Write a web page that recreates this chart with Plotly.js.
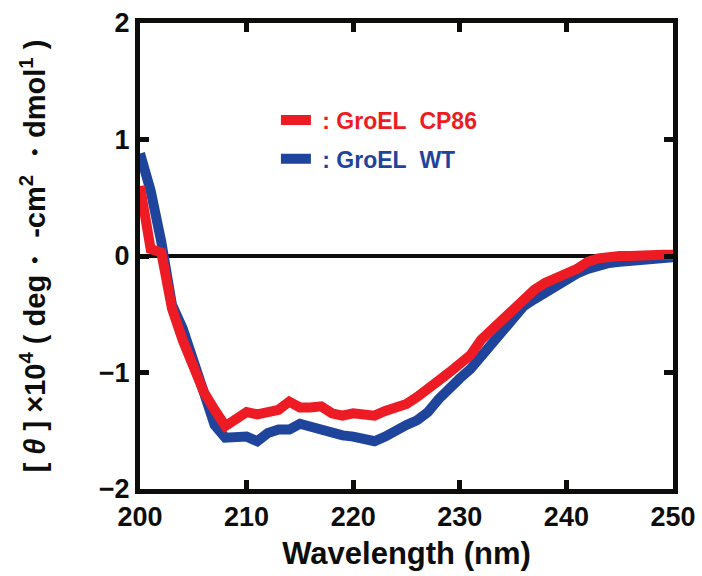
<!DOCTYPE html>
<html>
<head>
<meta charset="utf-8">
<script src="https://cdn.plot.ly/plotly-3.0.1.min.js"></script>
<style>html,body{margin:0;padding:0;background:#fff;}#chart{width:702px;height:576px;}</style>
</head>
<body>
<div id="chart"></div>
<script>
// Wavelength (nm)
var wavelength = [200,201,202,203,204,205,206,207,208,209,210,211,212,213,214,215,216,217,218,219,220,221,222,223,224,225,226,227,228,229,230,231,232,233,234,235,236,237,238,239,240,241,242,243,244,245,246,247,248,249,250];
// [θ] x10^4, GroEL WT (blue)
var groelWT = [0.88,0.56,0.12,-0.42,-0.62,-0.90,-1.23,-1.45,-1.56,-1.55,-1.55,-1.59,-1.52,-1.49,-1.49,-1.44,-1.47,-1.48,-1.52,-1.54,-1.55,-1.56,-1.59,-1.55,-1.49,-1.45,-1.41,-1.34,-1.23,-1.13,-1.05,-0.97,-0.86,-0.73,-0.64,-0.53,-0.43,-0.37,-0.31,-0.26,-0.21,-0.15,-0.11,-0.08,-0.06,-0.05,-0.04,-0.02,-0.02,-0.02,-0.01];
// [θ] x10^4, GroEL CP86 (red)
var groelCP86 = [0.60,0.06,0.03,-0.45,-0.72,-0.97,-1.17,-1.32,-1.46,-1.40,-1.34,-1.36,-1.35,-1.32,-1.25,-1.30,-1.30,-1.29,-1.35,-1.37,-1.35,-1.35,-1.37,-1.33,-1.30,-1.27,-1.21,-1.13,-1.07,-1.00,-0.92,-0.85,-0.72,-0.63,-0.55,-0.44,-0.35,-0.29,-0.23,-0.18,-0.15,-0.11,-0.05,-0.02,0.0,0.0,0.0,0.01,0.0,0.01,0.01];
var xTicks = [200,210,220,230,240,250];
var yTicks = [-2,-1,0,1,2];
var seriesNames = ['\u00a0: GroEL\u00a0 WT', '\u00a0: GroEL\u00a0 CP86'];

var blue = '#1F449C', red = '#ED1C24', ink = '#0d0d0b';
var fontFam = 'Liberation Sans, Arial, Helvetica, sans-serif';

var traces = [
  {x: wavelength, y: groelWT, type: 'scatter', mode: 'lines', name: '<span style="color:' + blue + '">' + seriesNames[0] + '</span>',
   line: {color: blue, width: 10}, legendgroup: 'wt', legendrank: 2},
  {x: wavelength, y: groelCP86, type: 'scatter', mode: 'lines', name: '<span style="color:' + red + '">' + seriesNames[1] + '</span>',
   line: {color: red, width: 10}, legendgroup: 'cp', legendrank: 1}
];

var axisCommon = {
  showline: true, linecolor: ink, linewidth: 5, mirror: 'allticks',
  ticks: 'inside', ticklen: 9, tickwidth: 5, tickcolor: ink,
  showgrid: false, tickfont: {family: fontFam, size: 27, color: ink, weight: 'bold'},
  automargin: false
};

var layout = {
  width: 702, height: 576,
  margin: {l: 140, r: 29, t: 23, b: 87},
  paper_bgcolor: '#fff', plot_bgcolor: '#fff',
  font: {family: fontFam, color: ink},
  showlegend: true,
  legend: {x: 0.255, y: 0.838, xanchor: 'left', yanchor: 'top', bgcolor: 'rgba(0,0,0,0)',
           font: {family: fontFam, size: 23, weight: 'bold'}, traceorder: 'grouped', tracegroupgap: 6, itemwidth: 30},
  xaxis: Object.assign({}, axisCommon, {
    range: [200, 250], tickvals: xTicks, zeroline: false,
    title: {text: 'Wavelength (nm)', font: {family: fontFam, size: 31, color: ink, weight: 'bold'}, standoff: 12}
  }),
  yaxis: Object.assign({}, axisCommon, {
    range: [-2, 2], tickvals: yTicks, zeroline: true, zerolinecolor: ink, zerolinewidth: 3.5,
    title: {text: '[ <i>θ</i> ] ×10<sup>4</sup> ( deg・ -cm<sup>2</sup> ・dmol<sup>1</sup> )',
            font: {family: fontFam, size: 29, color: ink, weight: 'bold'}, standoff: 46}
  })
};

Plotly.newPlot('chart', traces, layout, {staticPlot: true, displayModeBar: false});
</script>
</body>
</html>
